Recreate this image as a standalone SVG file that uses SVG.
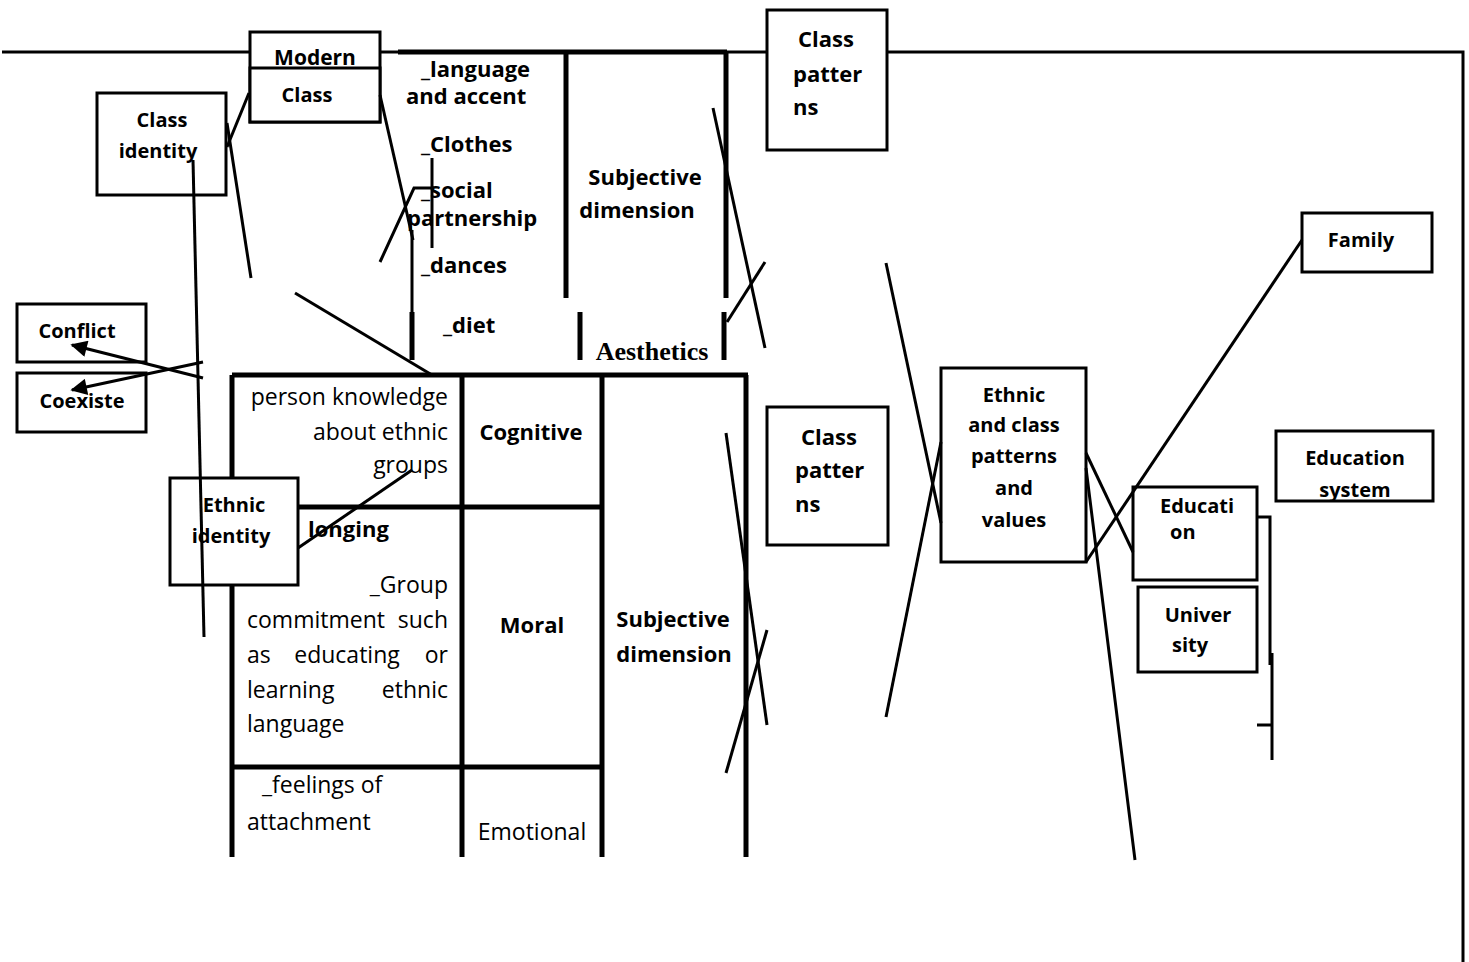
<svg xmlns="http://www.w3.org/2000/svg" width="1469" height="962" viewBox="0 0 1469 962">
<defs>
<style>
.bx{fill:#fff;stroke:#000;stroke-width:3}
.ln{fill:none;stroke:#000;stroke-width:3}
.tk{fill:none;stroke:#000;stroke-width:5}
.b{font-family:"Open Sans","Noto Sans",sans-serif;font-weight:bold;font-size:20px;fill:#000}
.bb{font-family:"Open Sans","Noto Sans",sans-serif;font-weight:bold;font-size:22px;fill:#000}
.r{font-family:"Open Sans","Noto Sans",sans-serif;font-size:23px;fill:#000}
.s{font-family:"Liberation Serif",serif;font-weight:bold;font-size:26px;fill:#000}
.m{text-anchor:middle}
.e{text-anchor:end}
</style>
<marker id="ah" viewBox="0 0 10 10" refX="9" refY="5" markerWidth="6.5" markerHeight="5.5" orient="auto" markerUnits="strokeWidth">
<path d="M0,0 L10,5 L0,10 z" fill="#000"/>
</marker>
</defs>
<rect width="1469" height="962" fill="#fff"/>

<g id="frame">
<path class="ln" d="M2,52 H767 M887,52 H1463 V962"/>
<path class="tk" d="M398,52 H727"/>
</g>

<g id="aesthetics-frame">
<path class="tk" d="M566,52 V298 M726,52 V298 M580,312 V360 M724,312 V360 M412,312 V360"/>
</g>

<g id="table">
<path class="tk" d="M232,375 H748 M232,375 V857 M462,375 V857 M602,375 V857 M746,375 V857 M232,507 H602 M232,767 H602"/>
</g>

<g id="aesthetics-texts">
<text class="bb" x="421" y="77">_language</text>
<text class="bb" x="406" y="104">and accent</text>
<text class="bb" x="421" y="152">_Clothes</text>
<text class="bb" x="421" y="198">_social</text>
<text class="bb" x="407" y="226">partnership</text>
<text class="bb" x="421" y="273">_dances</text>
<text class="bb" x="443" y="333">_diet</text>
<text class="bb m" x="645" y="185">Subjective</text>
<text class="bb m" x="637" y="218">dimension</text>
<text class="s m" x="652" y="360">Aesthetics</text>
</g>

<g id="table-texts">
<text class="r e" x="448" y="405">person knowledge</text>
<text class="r e" x="448" y="440">about ethnic</text>
<text class="r e" x="448" y="473">groups</text>
<text class="bb" x="308" y="537">longing</text>
<text class="r e" x="448" y="593">_Group</text>
<text class="r" x="247" y="628">commitment</text>
<text class="r e" x="448" y="628">such</text>
<text class="r" x="247" y="663">as</text>
<text class="r m" x="347" y="663">educating</text>
<text class="r e" x="448" y="663">or</text>
<text class="r" x="247" y="698">learning</text>
<text class="r e" x="448" y="698">ethnic</text>
<text class="r" x="247" y="732">language</text>
<text class="r" x="262" y="793">_feelings of</text>
<text class="r" x="247" y="830">attachment</text>
<text class="bb m" x="531" y="440">Cognitive</text>
<text class="bb m" x="532" y="633">Moral</text>
<text class="r m" x="532" y="840">Emotional</text>
<text class="bb m" x="673" y="627">Subjective</text>
<text class="bb m" x="674" y="662">dimension</text>
</g>

<g id="modern-class">
<rect class="bx" x="250" y="32" width="130" height="90"/>
<text class="b m" x="315" y="65" style="font-size:21px">Modern</text>
<rect class="bx" x="250" y="68" width="130" height="54"/>
<text class="b m" x="307" y="102">Class</text>
</g>

<g id="class-identity">
<rect class="bx" x="97" y="93" width="129" height="102"/>
<text class="b m" x="162" y="127">Class</text>
<text class="b m" x="158" y="158">identity</text>
</g>

<g id="conflict">
<rect class="bx" x="17" y="304" width="129" height="58"/>
<text class="b m" x="77" y="338">Conflict</text>
</g>

<g id="coexiste">
<rect class="bx" x="17" y="373" width="129" height="59"/>
<text class="b m" x="82" y="408">Coexiste</text>
</g>

<g id="ethnic-identity">
<rect class="bx" x="170" y="478" width="128" height="107"/>
<text class="b m" x="234" y="512">Ethnic</text>
<text class="b m" x="231" y="543">identity</text>
</g>

<g id="class-patterns-top">
<rect class="bx" x="767" y="10" width="120" height="140"/>
<text class="bb m" x="826" y="47">Class</text>
<text class="bb" x="793" y="82">patter</text>
<text class="bb" x="793" y="115">ns</text>
</g>

<g id="class-patterns-mid">
<rect class="bx" x="767" y="407" width="121" height="138"/>
<text class="bb m" x="829" y="445">Class</text>
<text class="bb" x="795" y="478">patter</text>
<text class="bb" x="795" y="512">ns</text>
</g>

<g id="ethnic-class-patterns">
<rect class="bx" x="941" y="368" width="145" height="194"/>
<text class="b m" x="1014" y="402">Ethnic</text>
<text class="b m" x="1014" y="432">and class</text>
<text class="b m" x="1014" y="463">patterns</text>
<text class="b m" x="1014" y="495">and</text>
<text class="b m" x="1014" y="527">values</text>
</g>

<g id="family">
<rect class="bx" x="1302" y="213" width="130" height="59"/>
<text class="b m" x="1361" y="247">Family</text>
</g>

<g id="education-system">
<rect class="bx" x="1276" y="431" width="157" height="70"/>
<text class="b m" x="1355" y="465">Education</text>
<text class="b m" x="1355" y="497">system</text>
</g>

<g id="education">
<rect class="bx" x="1133" y="487" width="124" height="93"/>
<text class="b" x="1160" y="513">Educati</text>
<text class="b" x="1170" y="539">on</text>
</g>

<g id="university">
<rect class="bx" x="1138" y="587" width="119" height="85"/>
<text class="b m" x="1198" y="622">Univer</text>
<text class="b m" x="1190" y="652">sity</text>
</g>

<g id="connectors">
<path class="ln" d="M227,147 L249,93"/>
<path class="ln" d="M227,123 L251,278"/>
<path class="ln" d="M193,160 L204,637"/>
<path class="ln" d="M380,95 L413,240"/>
<path class="ln" d="M412,230 V312"/>
<path class="ln" d="M380,262 L414,188 H434"/>
<path class="ln" d="M432,158 V248"/>
<path class="ln" d="M295,293 L432,375"/>
<path class="ln" d="M203,378 L72,345" marker-end="url(#ah)"/>
<path class="ln" d="M203,362 L72,390" marker-end="url(#ah)"/>
<path class="ln" d="M298,548 L412,470"/>
<path class="ln" d="M713,108 L765,348"/>
<path class="ln" d="M727,322 L765,262"/>
<path class="ln" d="M726,433 L767,725"/>
<path class="ln" d="M767,630 L726,773"/>
<path class="ln" d="M886,263 L941,523"/>
<path class="ln" d="M941,442 L886,717"/>
<path class="ln" d="M1086,453 L1133,552"/>
<path class="ln" d="M1086,468 L1135,860"/>
<path class="ln" d="M1302,240 L1086,562"/>
<path class="ln" d="M1257,517 H1270 V665"/>
<path class="ln" d="M1272,653 V760"/>
<path class="ln" d="M1257,725 H1272"/>
</g>
</svg>
